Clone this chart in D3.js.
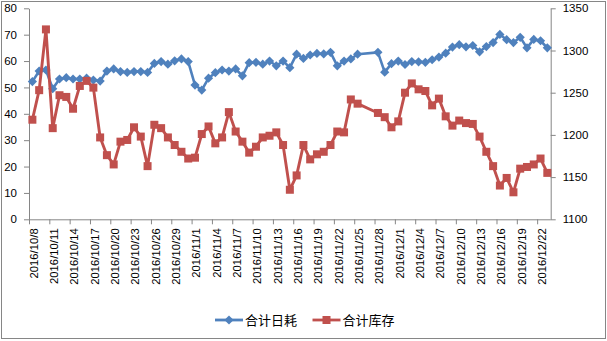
<!DOCTYPE html>
<html><head><meta charset="utf-8">
<script src="https://cdn.jsdelivr.net/npm/d3@7"></script>
<style>body{margin:0;background:#fff}svg{display:block}</style>
</head><body>
<svg id="c" width="607" height="341"></svg>
<script>
const dates = [
"2016/10/8","2016/10/9","2016/10/10","2016/10/11","2016/10/12","2016/10/13","2016/10/14","2016/10/15","2016/10/16","2016/10/17",
"2016/10/18","2016/10/19","2016/10/20","2016/10/21","2016/10/22","2016/10/23","2016/10/24","2016/10/25","2016/10/26","2016/10/27",
"2016/10/28","2016/10/29","2016/10/30","2016/10/31","2016/11/1","2016/11/2","2016/11/3","2016/11/4","2016/11/5","2016/11/6",
"2016/11/7","2016/11/8","2016/11/9","2016/11/10","2016/11/11","2016/11/12","2016/11/13","2016/11/14","2016/11/15","2016/11/16",
"2016/11/17","2016/11/18","2016/11/19","2016/11/20","2016/11/21","2016/11/22","2016/11/23","2016/11/24","2016/11/25",
"2016/11/28","2016/11/29","2016/11/30","2016/12/1","2016/12/2","2016/12/3","2016/12/4","2016/12/5","2016/12/6","2016/12/7",
"2016/12/8","2016/12/9","2016/12/10","2016/12/11","2016/12/12","2016/12/13","2016/12/14","2016/12/15","2016/12/16","2016/12/17",
"2016/12/18","2016/12/19","2016/12/20","2016/12/21","2016/12/22","2016/12/23"];
const dailyUse = [
52.2,56.2,56.6,49.5,53.2,53.7,53.2,53.2,53.5,52.8,
52.4,56.2,57,56,55.7,56,56,55.7,59.1,59.8,
58.8,60.1,60.8,59.8,50.9,49,53.5,55.6,56.6,56.2,
57,54.4,59.4,59.5,58.8,60,58.2,60,57.5,62.6,
61,62.3,62.9,62.7,63.3,58.2,60,60.8,62.6,
63.3,55.8,59,60,58.7,59.8,59.7,59.5,60.5,61.5,
63,65.3,66.2,65.4,65.9,63.5,65.5,67,70.1,68.1,
67,69,65,68.2,67.7,65];
const stock = [
1218,1253,1325,1208,1247,1245,1231,1258,1264,1256,
1197,1176,1165,1192,1194,1209,1198,1163,1212,1208,
1197,1188,1180,1172,1173,1201,1210,1190,1197,1227,
1204,1192,1179,1186,1197,1199,1203,1188,1135,1152,
1188,1171,1177,1180,1188,1204,1203,1242,1237,
1226,1221,1209,1216,1250,1261,1254,1252,1235,1243,
1222,1211,1217,1214,1213,1198,1180,1163,1140,1149,
1132,1160,1162,1165,1172,1155];
const tickLabels = ["2016/10/8","2016/10/11","2016/10/14","2016/10/17","2016/10/20","2016/10/23","2016/10/26","2016/10/29",
"2016/11/1","2016/11/4","2016/11/7","2016/11/10","2016/11/13","2016/11/16","2016/11/19","2016/11/22","2016/11/25","2016/11/28",
"2016/12/1","2016/12/4","2016/12/7","2016/12/10","2016/12/13","2016/12/16","2016/12/19","2016/12/22"];
const leftTicks = [0,10,20,30,40,50,60,70,80];
const rightTicks = [1100,1150,1200,1250,1300,1350];
const seriesNames = ["合计日耗","合计库存"];
const colors = ["#4F81BD","#C0504D"];

const parse = d3.timeParse("%Y/%m/%d");
const svg = d3.select("#c");
const L = 29, R = 550.7, T = 8.3, B = 219.3;
const axisColor = "#868686";
const font = "'Liberation Sans', Arial, sans-serif";

svg.append("rect").attr("x",1.5).attr("y",1.5).attr("width",604).attr("height",337)
  .attr("fill","#fff").attr("stroke",axisColor).attr("stroke-width",1);

const x = d3.scaleTime().domain([parse("2016/10/8"), parse("2016/12/24")]).range([L, R]);
const yL = d3.scaleLinear().domain([0,80]).range([B,T]);
const yR = d3.scaleLinear().domain([1100,1350]).range([B,T]);
const mid = s => d3.timeHour.offset(parse(s), 12);

function styleAxis(g){
  g.selectAll("path.domain").attr("stroke",axisColor).attr("stroke-width",1);
  g.selectAll(".tick line").attr("stroke",axisColor);
  g.selectAll("text").attr("fill","#000").style("font-family",font).style("font-size","11.5px");
}

const gl = svg.append("g").attr("transform",`translate(${L},0)`)
  .call(d3.axisLeft(yL).tickValues(leftTicks).tickFormat(d3.format("d")).tickSize(5).tickSizeOuter(0).tickPadding(7));
styleAxis(gl);
const gr = svg.append("g").attr("transform",`translate(${R},0)`)
  .call(d3.axisRight(yR).tickValues(rightTicks).tickFormat(d3.format("d")).tickSize(5).tickSizeOuter(0).tickPadding(7));
styleAxis(gr);

const gx = svg.append("g").attr("transform",`translate(0,${B})`)
  .call(d3.axisBottom(x).tickValues(tickLabels.map(parse)).tickFormat((d,i)=>tickLabels[i]).tickSize(5).tickSizeOuter(0));
styleAxis(gx);
gx.select("path.domain").attr("d",`M${L},0.5H${R}`);
gx.selectAll(".tick text").attr("text-anchor","end").attr("y",0).attr("dy",0)
  .attr("transform","translate(8.3,9) rotate(-90)").style("font-size","11.3px");

// series 1 (left axis)
const line1 = d3.line().x((d,i)=>x(mid(dates[i]))).y(d=>yL(d));
svg.append("path").datum(dailyUse).attr("d",line1).attr("fill","none")
  .attr("stroke",colors[0]).attr("stroke-width",2.6).attr("stroke-linejoin","round");
const diamond = "M0,-4.6L4.6,0L0,4.6L-4.6,0Z";
svg.append("g").selectAll("path").data(dailyUse).join("path")
  .attr("d",diamond).attr("fill",colors[0])
  .attr("transform",(d,i)=>`translate(${x(mid(dates[i]))},${yL(d)})`);

// series 2 (right axis)
const line2 = d3.line().x((d,i)=>x(mid(dates[i]))).y(d=>yR(d));
svg.append("path").datum(stock).attr("d",line2).attr("fill","none")
  .attr("stroke",colors[1]).attr("stroke-width",2.9).attr("stroke-linejoin","round");
svg.append("g").selectAll("rect").data(stock).join("rect")
  .attr("x",(d,i)=>x(mid(dates[i]))-4).attr("y",d=>yR(d)-4)
  .attr("width",8).attr("height",8).attr("fill",colors[1]);

// legend
const leg = [{x0:215, name:seriesNames[0], c:colors[0], m:"d"},{x0:312.5, name:seriesNames[1], c:colors[1], m:"s"}];
const ly = 320;
leg.forEach(l=>{
  svg.append("line").attr("x1",l.x0).attr("x2",l.x0+28).attr("y1",ly).attr("y2",ly)
    .attr("stroke",l.c).attr("stroke-width",2.8);
  if(l.m==="d") svg.append("path").attr("d",diamond).attr("fill",l.c).attr("transform",`translate(${l.x0+14},${ly})`);
  else svg.append("rect").attr("x",l.x0+10).attr("y",ly-4).attr("width",8).attr("height",8).attr("fill",l.c);
  svg.append("text").attr("x",l.x0+30).attr("y",ly).attr("dy","0.36em").text(l.name)
    .style("font-family","'Noto Sans CJK SC', sans-serif").style("font-size","13px").attr("fill","#000");
});
</script>
</body></html>
